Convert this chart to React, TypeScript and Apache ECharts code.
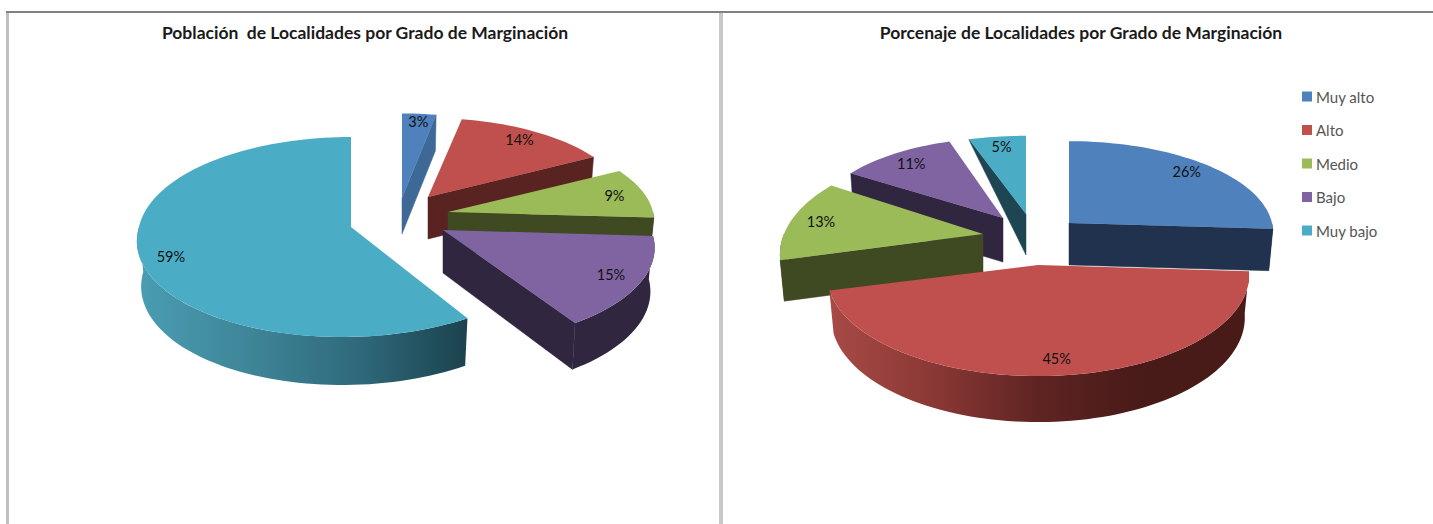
import React, { useEffect, useRef } from "react";
import * as echarts from "echarts";

const categories = ["Muy alto", "Alto", "Medio", "Bajo", "Muy bajo"];
const poblacionValues = [3, 14, 9, 15, 59];
const localidadesValues = [26, 45, 13, 11, 5];
const titleLeft = "Población  de Localidades por Grado de Marginación";
const titleRight = "Porcenaje de Localidades por Grado de Marginación";

const faceColors = ["#4f81bd", "#c0504d", "#9bbb59", "#8064a2", "#4bacc6"];

type Slice = {
  x: number; y: number; rx: number; ry: number; k: number; d: number; df?: number;
  sx?: number; od?: number; wall: string; grad?: string[]; f?: number; ly?: number; z: number;
};

const leftLayout: Slice[] = [
  { x: 402, y: 198, rx: 200, ry: 93, k: 0.1, d: 36, wall: "#3e6896", f: 0.95, ly: 3, z: 1 },
  { x: 428, y: 197, rx: 198, ry: 87, k: 0.1, d: 42, wall: "#582320", ly: -2, z: 2 },
  { x: 448, y: 212, rx: 205, ry: 89, k: 0.1, d: 40, wall: "#404a22", z: 3 },
  { x: 443, y: 230, rx: 208, ry: 93, k: 0.185, d: 43, df: 4, wall: "#312640", z: 4 },
  { x: 351, y: 227, rx: 212, ry: 99, k: 0.1, d: 45, df: 3, sx: 9, wall: "#1e4552", ly: 5,
    grad: ["#4a9db3", "#3f8699", "#2f6a7c", "#1c424e"], z: 5 },
];
const rightLayout: Slice[] = [
  { x: 1069, y: 223, rx: 203, ry: 90, k: 0.1, d: 42, wall: "#20324e", ly: -2, z: 14 },
  { x: 1038, y: 265, rx: 210, ry: 100, k: 0.1, d: 42, df: 4, wall: "#4a1c1a",
    grad: ["#a84a46", "#8a3835", "#5e2422", "#481a18", "#481a18"], z: 15 },
  { x: 983, y: 234, rx: 199, ry: 100, k: 0.2, d: 41, wall: "#404a22", z: 13 },
  { x: 1003, y: 218, rx: 190, ry: 88, k: 0.1, d: 44, wall: "#312640", z: 12 },
  { x: 1026, y: 214, rx: 202, ry: 86, k: 0.1, d: 41, od: 3, wall: "#1e4552", ly: -2, z: 11 },
];

const DEG = Math.PI / 180;
function proj(L: Slice, t: number): [number, number] {
  const u = Math.sin(t * DEG);
  const v = Math.cos(t * DEG);
  const s = 1 / (1 + L.k * v);
  return [L.x + L.rx * u * s + (L.sx || 0) * Math.min(v, 0), L.y - L.ry * v * s];
}
function lower(L: Slice, t: number, depth?: number): [number, number] {
  const [px, py] = proj(L, t);
  const v = Math.cos(t * DEG);
  return [L.x + (px - L.x) * 0.98, py + (depth ?? L.d + (L.df || 0) * Math.max(0, -v))];
}
function arc(from: number, to: number, f: (t: number) => [number, number]) {
  const pts: [number, number][] = [];
  const n = Math.max(2, Math.ceil((to - from) / 2));
  for (let i = 0; i <= n; i++) pts.push(f(from + ((to - from) * i) / n));
  return pts;
}

function pieSeries(values: number[], layout: Slice[]) {
  const total = values.reduce((a, b) => a + b, 0);
  let cum = 0;
  return values.map((val, i) => {
    const start = (cum / total) * 360;
    cum += val;
    const end = (cum / total) * 360;
    const L = layout[i];
    return {
      type: "custom",
      name: categories[i],
      coordinateSystem: "none",
      silent: true,
      z: L.z,
      itemStyle: { color: faceColors[i] },
      data: [[val]],
      renderItem: (_p: any, api: any) => {
        const pct = api.value(0);
        const children: any[] = [];
        const apex: [number, number] = [L.x, L.y];
        const apexLow: [number, number] = [L.x, L.y + L.d];
        const wallStyle = { fill: L.wall, stroke: L.wall, lineWidth: 0.5 };
        if (Math.sin(end * DEG) > 0.001) {
          children.push({ type: "polygon", shape: { points: [apex, proj(L, end), lower(L, end, L.od), apexLow] }, style: wallStyle });
        }
        if (Math.sin(start * DEG) < -0.001) {
          children.push({ type: "polygon", shape: { points: [apex, proj(L, start), lower(L, start, L.od), apexLow] }, style: wallStyle });
        }
        const a = Math.max(start, 90);
        const b = Math.min(end, 270);
        if (b > a) {
          const top = arc(a, b, (t) => proj(L, t));
          const bot = arc(a, b, (t) => lower(L, t)).reverse();
          const fill = L.grad
            ? new echarts.graphic.LinearGradient(0, 0, 1, 0, L.grad.map((c, j) => ({ offset: j / (L.grad!.length - 1), color: c })))
            : L.wall;
          children.push({ type: "polygon", shape: { points: [...top, ...bot] }, style: { fill } });
        }
        children.push({
          type: "polygon",
          shape: { points: [apex, ...arc(start, end, (t) => proj(L, t))] },
          style: { fill: faceColors[i] },
        });
        const mid = (start + end) / 2;
        const [mx, my] = proj(L, mid);
        const f = L.f ?? 0.85;
        children.push({
          type: "text",
          style: {
            text: `${pct}%`,
            x: L.x + (mx - L.x) * f,
            y: L.y + (my - L.y) * f + (L.ly || 0),
            fill: "#111111",
            font: "14.5px Lato, sans-serif",
            align: "center",
            verticalAlign: "middle",
          },
        });
        return { type: "group", children };
      },
    };
  });
}

const titleStyle = { fontFamily: "Lato, sans-serif", fontSize: 17.5, fontWeight: 700, color: "#1a1a1a" };

export default function App() {
  const ref = useRef<HTMLDivElement>(null);
  useEffect(() => {
    const chart = echarts.init(ref.current!, undefined, { renderer: "svg" });
    chart.setOption({
      animation: false,
      backgroundColor: "#ffffff",
      title: [
        { text: titleLeft, left: 365, top: 32, padding: 0, textAlign: "center", textVerticalAlign: "middle", textStyle: titleStyle },
        { text: titleRight, left: 1081, top: 32, padding: 0, textAlign: "center", textVerticalAlign: "middle", textStyle: titleStyle },
      ],
      legend: {
        data: categories,
        orient: "vertical",
        left: 1302,
        top: 89,
        padding: 0,
        icon: "rect",
        itemWidth: 10,
        itemHeight: 10,
        itemGap: 18.5,
        textStyle: { fontFamily: "Lato, sans-serif", fontSize: 15, lineHeight: 14, color: "#555555", padding: [0, 0, 0, -1] },
      },
      graphic: [
        { type: "rect", silent: true, shape: { x: 6, y: 11, width: 1427, height: 2 }, style: { fill: "#808080" } },
        { type: "rect", silent: true, shape: { x: 6, y: 13, width: 3, height: 511 }, style: { fill: "#c0c0c0" } },
        { type: "rect", silent: true, shape: { x: 719, y: 13, width: 4, height: 511 }, style: { fill: "#c8c8c8" } },
      ],
      series: [...pieSeries(poblacionValues, leftLayout), ...pieSeries(localidadesValues, rightLayout)],
    });
    return () => chart.dispose();
  }, []);
  return <div ref={ref} style={{ position: "absolute", left: 0, top: 0, width: 1433, height: 524 }} />;
}
